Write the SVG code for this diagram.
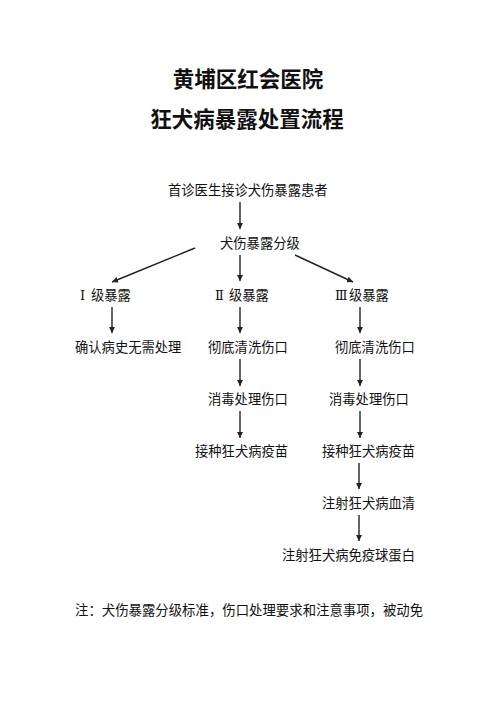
<svg xmlns="http://www.w3.org/2000/svg" width="496" height="702" viewBox="0 0 496 702">
<style>
.t{font-family:"Noto Sans CJK SC","Noto Sans",sans-serif;font-size:13.3px;fill:#111}
.r{font-family:"DejaVu Serif","Liberation Serif",serif;font-size:13px}
.h{font-family:"Noto Sans CJK SC","Noto Sans",sans-serif;font-size:21.5px;font-weight:bold;fill:#111;text-anchor:middle}
.c line{stroke:#222;stroke-width:1.4;marker-end:url(#a)}
</style>
<defs>
<marker id="a" viewBox="0 0 10 10" refX="10" refY="5" markerWidth="6" markerHeight="6" markerUnits="userSpaceOnUse" orient="auto"><path d="M0,0L10,5L0,10z" fill="#222"/></marker>
</defs>
<rect width="496" height="702" fill="#fff"/>
<g id="title"><text class="h" x="248" y="87">黄埔区红会医院</text><text class="h" x="247" y="127">狂犬病暴露处置流程</text></g>
<g id="n0"><text class="t" x="168" y="195">首诊医生接诊犬伤暴露患者</text></g>
<g id="n1"><text class="t" x="220" y="248">犬伤暴露分级</text></g>
<g id="l1"><text class="t" x="80" y="300"><tspan class="r">Ⅰ</tspan><tspan x="91">级暴露</tspan></text></g>
<g id="l2"><text class="t" x="215" y="300"><tspan class="r">Ⅱ</tspan><tspan x="229">级暴露</tspan></text></g>
<g id="l3"><text class="t" x="335" y="300"><tspan class="r">Ⅲ</tspan><tspan x="349">级暴露</tspan></text></g>
<g id="a1"><text class="t" x="75" y="352">确认病史无需处理</text></g>
<g id="b1"><text class="t" x="208" y="352">彻底清洗伤口</text></g>
<g id="c1"><text class="t" x="335" y="352">彻底清洗伤口</text></g>
<g id="b2"><text class="t" x="208" y="404">消毒处理伤口</text></g>
<g id="c2"><text class="t" x="329" y="404">消毒处理伤口</text></g>
<g id="b3"><text class="t" x="195" y="456">接种狂犬病疫苗</text></g>
<g id="c3"><text class="t" x="322" y="456">接种狂犬病疫苗</text></g>
<g id="c4"><text class="t" x="322" y="508">注射狂犬病血清</text></g>
<g id="c5"><text class="t" x="282" y="560">注射狂犬病免疫球蛋白</text></g>
<g class="c" id="connectors">
<line x1="240" y1="202" x2="240" y2="229"/>
<line x1="195" y1="248" x2="112" y2="282"/>
<line x1="240" y1="255" x2="240" y2="281"/>
<line x1="295" y1="255" x2="353" y2="282"/>
<line x1="112" y1="307" x2="112" y2="333"/>
<line x1="240" y1="307" x2="240" y2="333"/>
<line x1="360" y1="307" x2="360" y2="333"/>
<line x1="240" y1="359" x2="240" y2="386"/>
<line x1="360" y1="359" x2="360" y2="386"/>
<line x1="240" y1="411" x2="240" y2="438"/>
<line x1="360" y1="411" x2="360" y2="438"/>
<line x1="359" y1="463" x2="359" y2="489"/>
<line x1="359" y1="515" x2="359" y2="541"/>
</g>
<g id="note"><text class="t" x="75" y="615" style="font-size:13.4px">注：犬伤暴露分级标准，伤口处理要求和注意事项，被动免</text></g>
</svg>
